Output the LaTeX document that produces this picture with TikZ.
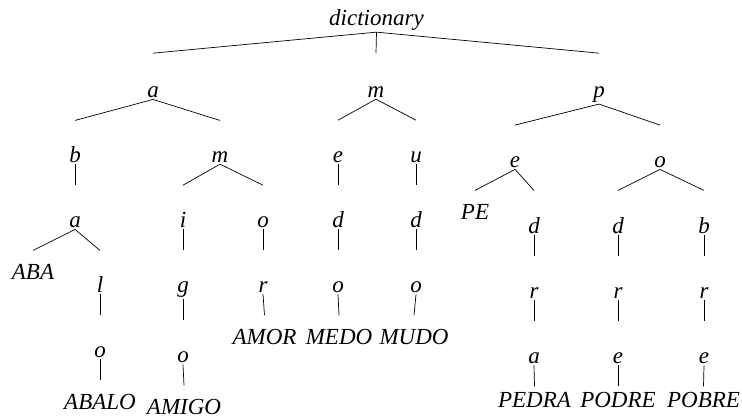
\documentclass[tikz,border=0pt]{standalone}
\usepackage{fontspec}
\setmainfont{Liberation Serif}
\usetikzlibrary{calc}
\tikzset{
  lbl/.style={anchor=base, inner sep=1pt, font=\fontsize{23}{27}\selectfont\itshape},
  edge/.style={line width=0.7pt, black}
}
\newcommand\treeedge[2]{\draw[edge] let \p1=(#1.south), \p2=(#2.base) in (\p1) -- (\x2,\y1-21pt);}
\begin{document}
\begin{tikzpicture}[x=1pt,y=-1pt]
\useasboundingbox (0,0) rectangle (742,419);
% level 0
\node[lbl] (n0) at (376.5,26) {dictionary};
% level 1
\node[lbl] (a1) at (153,98) {a};
\node[lbl] (m1) at (376,98) {m};
\node[lbl] (p1) at (599,98) {p};
% level 2
\node[lbl] (b2) at (75,163) {b};
\node[lbl] (m2) at (220,163) {m};
\node[lbl] (e2) at (338,163) {e};
\node[lbl] (u2) at (416,163) {u};
\node[lbl] (e2p) at (515,168) {e};
\node[lbl] (o2p) at (660,168) {o};
% level 3
\node[lbl] (a3) at (75,228) {a};
\node[lbl] (i3) at (183,228) {i};
\node[lbl] (o3) at (263,228) {o};
\node[lbl] (d3) at (338,228) {d};
\node[lbl] (d3u) at (416,228) {d};
\node[lbl] (PE) at (475,220) {PE};
\node[lbl] (d3p) at (534,234) {d};
\node[lbl] (d3o) at (618,234) {d};
\node[lbl] (b3o) at (704,234) {b};
% level 4
\node[lbl] (ABA) at (33,280) {ABA};
\node[lbl] (l4) at (100,293) {l};
\node[lbl] (g4) at (183,293) {g};
\node[lbl] (r4) at (263,293) {r};
\node[lbl] (o4) at (338,293) {o};
\node[lbl] (o4u) at (416,293) {o};
\node[lbl] (r4p) at (534,299) {r};
\node[lbl] (r4o) at (618,299) {r};
\node[lbl] (r4b) at (704,299) {r};
% level 5
\node[lbl] (o5) at (100,358) {o};
\node[lbl] (o5g) at (183,363) {o};
\node[lbl] (AMOR) at (264.5,345) {AMOR};
\node[lbl] (MEDO) at (339,345) {MEDO};
\node[lbl] (MUDO) at (414,345) {MUDO};
\node[lbl] (a5) at (534,364) {a};
\node[lbl] (e5) at (618,364) {e};
\node[lbl] (e5b) at (704,364) {e};
% level 6
\node[lbl] (ABALO) at (100,410) {ABALO};
\node[lbl] (AMIGO) at (184,415) {AMIGO};
\node[lbl] (PEDRA) at (534.5,408) {PEDRA};
\node[lbl] (PODRE) at (618,408) {PODRE};
\node[lbl] (POBRE) at (703.5,408) {POBRE};
% edges
\treeedge{n0}{a1}\treeedge{n0}{m1}\treeedge{n0}{p1}
\treeedge{a1}{b2}\treeedge{a1}{m2}
\treeedge{m1}{e2}\treeedge{m1}{u2}
\treeedge{p1}{e2p}\treeedge{p1}{o2p}
\treeedge{b2}{a3}
\treeedge{m2}{i3}\treeedge{m2}{o3}
\treeedge{e2}{d3}
\treeedge{u2}{d3u}
\treeedge{e2p}{PE}\treeedge{e2p}{d3p}
\treeedge{o2p}{d3o}\treeedge{o2p}{b3o}
\treeedge{a3}{ABA}\treeedge{a3}{l4}
\treeedge{i3}{g4}
\treeedge{o3}{r4}
\treeedge{d3}{o4}
\treeedge{d3u}{o4u}
\treeedge{d3p}{r4p}
\treeedge{d3o}{r4o}
\treeedge{b3o}{r4b}
\treeedge{l4}{o5}
\treeedge{g4}{o5g}
\treeedge{r4}{AMOR}
\treeedge{o4}{MEDO}
\treeedge{o4u}{MUDO}
\treeedge{r4p}{a5}
\treeedge{r4o}{e5}
\treeedge{r4b}{e5b}
\treeedge{o5}{ABALO}
\treeedge{o5g}{AMIGO}
\treeedge{a5}{PEDRA}
\treeedge{e5}{PODRE}
\treeedge{e5b}{POBRE}
\end{tikzpicture}
\end{document}
